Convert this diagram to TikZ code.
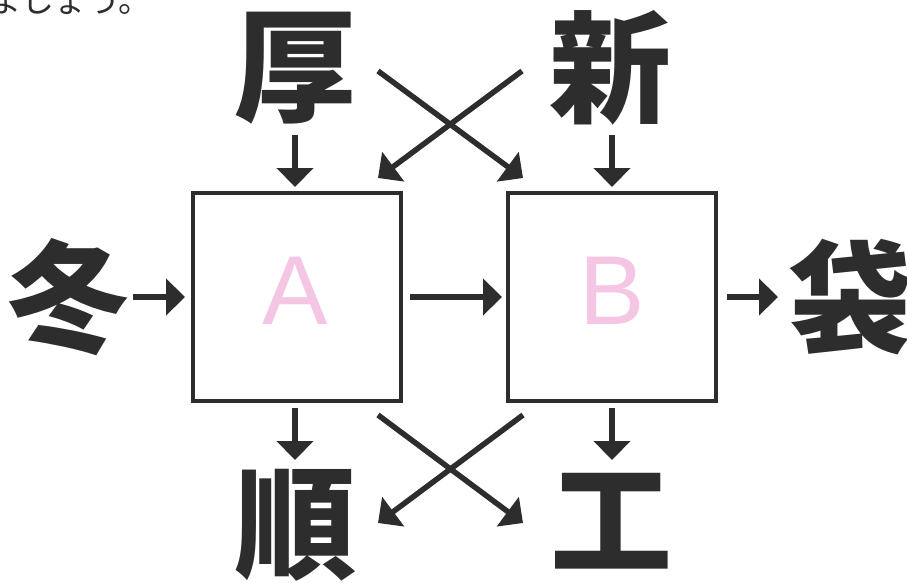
\documentclass[tikz,border=0pt]{standalone}
\usepackage{fontspec}
\setmainfont{Liberation Sans}
\newfontfamily\cjk{Noto Sans CJK JP}
\usetikzlibrary{arrows.meta,calc}
\definecolor{ink}{RGB}{45,45,45}
\definecolor{pinkl}{RGB}{244,198,228}
\tikzset{
  kanji/.style={inner sep=0pt, text=ink, font=\cjk\bfseries\fontsize{122}{122}\selectfont},
  boxnode/.style={draw=ink, line width=4pt, minimum width=208pt, minimum height=208pt, inner sep=0pt},
  letter/.style={inner sep=0pt, text=pinkl, font=\fontsize{98}{98}\selectfont, anchor=base},
  arr/.style={draw=ink, line width=5.5pt, -{Triangle[width=36pt,length=19pt]}},
}
\begin{document}
\begin{tikzpicture}[x=1pt,y=-1pt]
\useasboundingbox (0,0) rectangle (907,583);
\clip (0,0) rectangle (907,583);
\node[anchor=base west, inner sep=0pt, text=ink, font=\cjk\fontsize{33}{33}\selectfont] (top) at (-12,13) {ましょう。};
% boxes
\node[boxnode] (A) at (297,297) {};
\node[boxnode] (B) at (612,297) {};
\node[letter] (la) at (295,324) {A};
\node[letter] (lb) at (612,324) {B};
% kanji
\node[kanji] (hou) at (295,68) {厚};
\node[kanji] (shin) at (610,68) {新};
\node[kanji] (fuyu) at (69,297) {冬};
\node[kanji] (tai) at (850,297) {袋};
\node[kanji] (jun) at (295,525) {順};
\node[kanji] (kou) at (611,521) {工};
% vertical/horizontal arrows
\draw[arr, shorten >=4pt] (hou |- 0,135) -- (hou |- A.north);
\draw[arr, shorten >=4pt] (B |- 0,135) -- (B.north);
\draw[arr, shorten >=6pt] (133,0 |- fuyu) -- (A.west);
\draw[arr, shorten <=7pt, shorten >=4pt] (A.east) -- (B.west);
\draw[arr, shorten <=9pt] (B.east) -- (778,0 |- tai);
\draw[arr, shorten <=5pt] (hou |- A.south) -- (hou |- 0,460);
\draw[arr, shorten <=5pt] (B.south) -- (B |- 0,460);
% crosses
\draw[arr] ($(hou.center)+(83,3)$) -- ($(B.north west)+(17,-13)$);
\draw[arr] ($(shin.center)+(-88,3)$) -- ($(A.north east)+(-25,-13)$);
\draw[arr] ($(A.south east)+(-25,12)$) -- ($(kou.center)+(-88,2)$);
\draw[arr] ($(B.south west)+(17,12)$) -- ($(jun.center)+(83,-2)$);
\end{tikzpicture}
\end{document}
